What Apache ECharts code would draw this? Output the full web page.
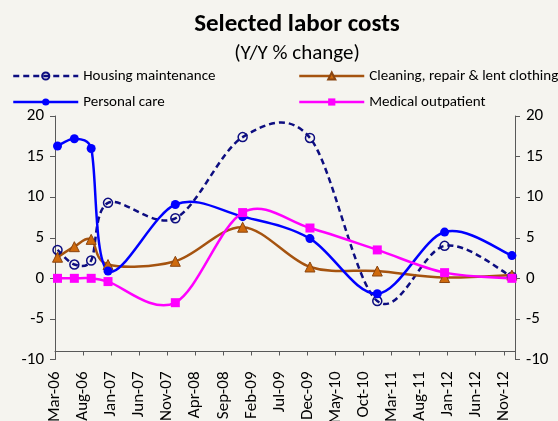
<!DOCTYPE html>
<html>
<head>
<meta charset="utf-8">
<script src="https://cdn.jsdelivr.net/npm/echarts@6/dist/echarts.min.js"></script>
<style>
  html, body { margin: 0; padding: 0; background: #f5f4ef; }
  #chart { width: 558px; height: 421px; }
</style>
</head>
<body>
<div id="chart"></div>
<script>
// x axis tick labels, one every 5 months from Mar-06
const tickLabels = ['Mar-06', 'Aug-06', 'Jan-07', 'Jun-07', 'Nov-07', 'Apr-08', 'Sep-08', 'Feb-09', 'Jul-09',
  'Dec-09', 'May-10', 'Oct-10', 'Mar-11', 'Aug-11', 'Jan-12', 'Jun-12', 'Nov-12'];
// observation months, counted from Mar-06 (Mar-06, Jun-06, Sep-06, Dec-06, Dec-07 ... Dec-12)
const obsMonths = [0, 3, 6, 9, 21, 33, 45, 57, 69, 81];

const housing = [3.5, 1.7, 2.2, 9.3, 7.4, 17.4, 17.3, -2.8, 4.0, 0.2];
const cleaning = [2.6, 3.9, 4.8, 1.7, 2.1, 6.3, 1.4, 0.9, 0.1, 0.4];
const personal = [16.3, 17.2, 16.0, 0.9, 9.1, 7.6, 4.9, -1.9, 5.7, 2.8];
const medical = [0, 0, 0, -0.4, -3.0, 8.1, 6.2, 3.5, 0.7, 0.0];

const font = 'Carlito, Lato, sans-serif';
const navy = '#0d0d80', brown = '#a5530f', blue = '#0000ff', pink = '#ff00ff';

// points sit mid-month on the date axis
function pts(vals) {
  return vals.map(function (v, i) { return [obsMonths[i] + 0.45, v]; });
}

function dist(a, b) {
  return Math.sqrt((a[0] - b[0]) * (a[0] - b[0]) + (a[1] - b[1]) * (a[1] - b[1]));
}

// excel-like smoothed line, drawn once through the axis scales
// (tension 1/6, handle capped at half the segment length)
function curve(id, vals, color, dash) {
  const data = pts(vals);
  return {
    id: id,
    type: 'custom',
    data: data,
    silent: true,
    renderItem: function (params, api) {
      if (params.dataIndex !== 0) return;
      const p = data.map(function (d) { return api.coord(d); });
      let path = 'M' + p[0][0] + ' ' + p[0][1];
      for (let i = 0; i < p.length - 1; i++) {
        const p0 = p[i - 1] || p[i], p1 = p[i], p2 = p[i + 1], p3 = p[i + 2] || p[i + 1];
        const d12 = dist(p1, p2), d02 = dist(p0, p2), d13 = dist(p1, p3);
        const f0 = d02 > 0 ? Math.min(1 / 6, d12 / (2 * d02)) : 0;
        const f1 = d13 > 0 ? Math.min(1 / 6, d12 / (2 * d13)) : 0;
        const c1x = p1[0] + (p2[0] - p0[0]) * f0, c1y = p1[1] + (p2[1] - p0[1]) * f0;
        const c2x = p2[0] - (p3[0] - p1[0]) * f1, c2y = p2[1] - (p3[1] - p1[1]) * f1;
        path += ' C' + c1x + ' ' + c1y + ' ' + c2x + ' ' + c2y + ' ' + p2[0] + ' ' + p2[1];
      }
      return {
        type: 'path',
        shape: { pathData: path },
        style: { fill: 'none', stroke: color, lineWidth: 2.5, lineDash: dash || null }
      };
    }
  };
}

const chart = echarts.init(document.getElementById('chart'));

const yAxisCommon = {
  type: 'value',
  min: -10,
  max: 20,
  interval: 5,
  axisLine: { show: true, lineStyle: { color: '#595959', width: 1 } },
  axisTick: { show: true, length: 5, lineStyle: { color: '#595959' } },
  splitLine: { show: false },
  axisLabel: { color: '#000', fontSize: 17, fontFamily: font, margin: 11 }
};

const legendCommon = {
  orient: 'vertical',
  top: 68,
  padding: 0,
  itemWidth: 65,
  itemHeight: 9,
  itemGap: 10,
  textStyle: { fontSize: 15, lineHeight: 16, color: '#000', fontFamily: font }
};

const option = {
  backgroundColor: '#f5f4ef',
  animation: false,
  title: [
    {
      text: 'Selected labor costs',
      left: 297,
      top: 12,
      padding: 0,
      textAlign: 'center',
      textStyle: { fontSize: 25, fontWeight: 'bold', color: '#000', fontFamily: font }
    },
    {
      text: '(Y/Y % change)',
      left: 297,
      top: 43,
      padding: 0,
      textAlign: 'center',
      textStyle: { fontSize: 21, fontWeight: 'normal', color: '#000', fontFamily: font }
    }
  ],
  legend: [
    Object.assign({}, legendCommon, {
      left: 12,
      data: [
        { name: 'Housing maintenance', lineStyle: { opacity: 1, color: navy, width: 2.5, type: [6, 4] } },
        { name: 'Personal care', lineStyle: { opacity: 1, color: blue, width: 2.5 } }
      ]
    }),
    Object.assign({}, legendCommon, {
      left: 298,
      data: [
        { name: 'Cleaning, repair & lent clothing', lineStyle: { opacity: 1, color: brown, width: 2.5 } },
        { name: 'Medical outpatient', lineStyle: { opacity: 1, color: pink, width: 2.5 } }
      ]
    })
  ],
  grid: { left: 55, right: 43, top: 116, bottom: 61.5, containLabel: false, outerBoundsMode: 'none' },
  xAxis: {
    type: 'value',
    min: 0,
    max: 82,
    interval: 5,
    offset: -8,
    axisLine: { show: true, onZero: false, lineStyle: { color: '#595959', width: 1 } },
    axisTick: { show: true, length: 4, lineStyle: { color: '#595959' } },
    splitLine: { show: false },
    axisLabel: {
      rotate: 90,
      margin: 20,
      color: '#000',
      fontSize: 17,
      fontFamily: font,
      formatter: function (v) {
        return v % 5 === 0 ? (tickLabels[v / 5] || '') : '';
      }
    }
  },
  yAxis: [
    Object.assign({}, yAxisCommon, { position: 'left' }),
    Object.assign({}, yAxisCommon, { position: 'right' })
  ],
  series: [
    curve('housing-curve', housing, navy, [6, 4]),
    {
      name: 'Housing maintenance',
      type: 'line',
      data: pts(housing),
      symbol: 'circle',
      symbolSize: 9,
      lineStyle: { color: navy, width: 2.5, opacity: 0 },
      itemStyle: { color: 'rgba(0,0,0,0)', borderColor: navy, borderWidth: 1.5 }
    },
    curve('cleaning-curve', cleaning, brown),
    {
      name: 'Cleaning, repair & lent clothing',
      type: 'line',
      data: pts(cleaning),
      symbol: 'triangle',
      symbolSize: 10,
      lineStyle: { color: brown, width: 2.5, opacity: 0 },
      itemStyle: { color: '#cf6a0c', borderColor: '#8a4510', borderWidth: 1 }
    },
    curve('personal-curve', personal, blue),
    {
      name: 'Personal care',
      type: 'line',
      data: pts(personal),
      symbol: 'circle',
      symbolSize: 9,
      lineStyle: { color: blue, width: 2.5, opacity: 0 },
      itemStyle: { color: blue }
    },
    curve('medical-curve', medical, pink),
    {
      name: 'Medical outpatient',
      type: 'line',
      data: pts(medical),
      symbol: 'rect',
      symbolSize: 9,
      lineStyle: { color: pink, width: 2.5, opacity: 0 },
      itemStyle: { color: pink }
    }
  ]
};

chart.setOption(option);
</script>
</body>
</html>
